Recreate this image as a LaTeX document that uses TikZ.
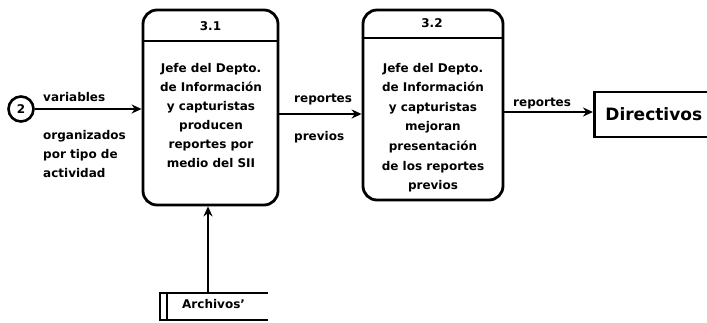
\documentclass[tikz,border=0pt]{standalone}
\usepackage{fontspec}
\setmainfont{DejaVu Sans}
\usetikzlibrary{arrows.meta}
\begin{document}
\begin{tikzpicture}[x=1pt,y=-1pt,
  lbl/.style={font=\fontsize{12}{19}\selectfont\bfseries, inner sep=0pt},
  proc/.style={draw, line width=2.8pt, rounded corners=14pt, inner sep=0pt},
  arr/.style={line width=2.2pt, -{Stealth[length=10pt,width=9pt]}},
  thick line/.style={line width=2.8pt},
]
\useasboundingbox (0,0) rectangle (707,322);

% process 3.1
\node[proc, minimum width=135pt, minimum height=195pt] (b1) at (210.5,107.5) {};
\coordinate (d1) at (0,41);
\draw[thick line] (d1 -| b1.west) -- (d1 -| b1.east);
\node[lbl] (t1) at (210.5,26) {3.1};
\node[lbl, align=center] (x1) at (211,116) {Jefe del Depto.\\de Información\\y capturistas\\producen\\reportes por\\medio del SII};

% process 3.2
\node[proc, minimum width=140pt, minimum height=190pt] (b2) at (433,105) {};
\coordinate (d2) at (0,38);
\draw[thick line] (d2 -| b2.west) -- (d2 -| b2.east);
\node[lbl] (t2) at (432,23) {3.2};
\node[lbl, align=center, font=\fontsize{12}{19.6}\selectfont\bfseries] (x2) at (433,127.5) {Jefe del Depto.\\de Información\\y capturistas\\mejoran\\presentación\\de los reportes\\previos};

% connector 2
\node[lbl, draw, circle, line width=2.6pt, minimum size=25pt] (c2) at (21,109) {2};
\draw[arr] (c2.east) -- (c2.east -| b1.west);
\node[lbl, anchor=west] (v) at (43,97) {variables};
\node[lbl, anchor=west, align=left] (org) at (43,154.5) {organizados\\por tipo de\\actividad};

% flow 3.1 -> 3.2
\coordinate (a12) at (0,114);
\draw[arr] (a12 -| b1.east) -- (a12 -| b2.west);
\node[lbl, anchor=west] (r1) at (294,100) {reportes};
\node[lbl, anchor=west] (p1) at (294,137) {previos};

% external entity
\node[draw, line width=2.6pt, minimum height=45pt, minimum width=119pt, anchor=west,
      inner sep=0pt, font=\fontsize{17}{20}\selectfont\bfseries] (dir) at (593,114.5) {Directivos};

% flow 3.2 -> Directivos
\coordinate (a23) at (0,112);
\draw[arr] (a23 -| b2.east) -- (a23 -| dir.west);
\node[lbl, anchor=west] (r2) at (513,104) {reportes};

% data store
\draw[thick line] (268,293) -- (160,293) -- (160,320) -- (268,320);
\draw[thick line] (167,293) -- (167,320);
\node[lbl, anchor=west] (arc) at (182,304) {Archivos'};
\coordinate (st) at (208,293);
\draw[arr] (st) -- (st |- b1.south);
\end{tikzpicture}
\end{document}
